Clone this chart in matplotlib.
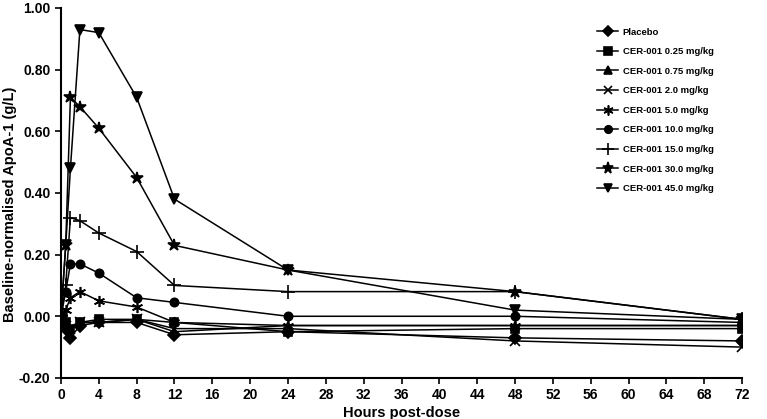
import matplotlib
matplotlib.use('Agg')
import matplotlib.pyplot as plt
from matplotlib.ticker import FormatStrFormatter

plt.rcParams['font.family'] = ['Liberation Sans', 'DejaVu Sans']
plt.rcParams['font.weight'] = 'bold'

# sampling times (hours)
hours = [0, 0.5, 1, 2, 4, 8, 12, 24, 48, 72]

labels = ['Placebo', 'CER-001 0.25 mg/kg', 'CER-001 0.75 mg/kg', 'CER-001 2.0 mg/kg',
          'CER-001 5.0 mg/kg', 'CER-001 10.0 mg/kg', 'CER-001 15.0 mg/kg',
          'CER-001 30.0 mg/kg', 'CER-001 45.0 mg/kg']

placebo = [0.0, -0.04, -0.07, -0.03, -0.02, -0.02, -0.06, -0.05, -0.07, -0.08]
dose_025 = [0.0, -0.02, -0.04, -0.02, -0.01, -0.01, -0.02, -0.05, -0.04, -0.04]
dose_075 = [0.0, -0.03, -0.04, -0.02, -0.02, -0.01, -0.05, -0.03, -0.03, -0.03]
dose_2 = [0.0, -0.03, -0.04, -0.02, -0.02, -0.01, -0.04, -0.04, -0.08, -0.10]
dose_5 = [0.0, 0.02, 0.06, 0.08, 0.05, 0.03, -0.02, -0.03, -0.03, -0.03]
dose_10 = [0.0, 0.08, 0.17, 0.17, 0.14, 0.06, 0.045, 0.0, 0.0, -0.02]
dose_15 = [0.0, 0.10, 0.32, 0.31, 0.27, 0.21, 0.10, 0.08, 0.08, -0.01]
dose_30 = [0.0, 0.23, 0.71, 0.68, 0.61, 0.45, 0.23, 0.15, 0.08, -0.01]
dose_45 = [0.0, 0.23, 0.48, 0.93, 0.92, 0.71, 0.38, 0.15, 0.02, -0.01]

series = [placebo, dose_025, dose_075, dose_2, dose_5, dose_10, dose_15, dose_30, dose_45]
markers = ['D', 's', '^', 'x', (6, 2, 0), 'o', '+', '*', 'v']
sizes = [6, 6, 6, 7, 8, 6, 10, 9, 7]

fig = plt.figure(figsize=(7.67, 4.19), dpi=100)
ax = fig.add_axes([0.0795, 0.098, 0.888, 0.883])

for vals, lab, m, ms in zip(series, labels, markers, sizes):
    ax.plot(hours, vals, color='black', lw=1.1, marker=m, markersize=ms,
            markeredgewidth=1.2, label=lab)

ax.set_xlim(0, 72)
ax.set_ylim(-0.2, 1.0)
ax.set_xticks(range(0, 73, 4))
ax.set_yticks([-0.2, 0.0, 0.2, 0.4, 0.6, 0.8, 1.0])
ax.yaxis.set_major_formatter(FormatStrFormatter('%.2f'))
ax.tick_params(direction='out', length=4, width=1.2, labelsize=10)
for s in ['top', 'right']:
    ax.spines[s].set_visible(False)
for s in ['left', 'bottom']:
    ax.spines[s].set_linewidth(1.5)

ax.set_xlabel('Hours post-dose', fontsize=10.5, fontweight='bold')
ax.xaxis.set_label_coords(0.5, -0.075)
ax.set_ylabel('Baseline-normalised ApoA-1 (g/L)', fontsize=10.5, fontweight='bold')
ax.yaxis.set_label_coords(-0.065, 0.47)

leg = ax.legend(loc='upper left', bbox_to_anchor=(0.775, 0.97), frameon=False,
                fontsize=6.8, handlelength=2.2, labelspacing=1.12, handletextpad=0.5,
                markerscale=0.9)
for t in leg.get_texts():
    t.set_fontweight('bold')

fig.savefig('out.png', dpi=100)
